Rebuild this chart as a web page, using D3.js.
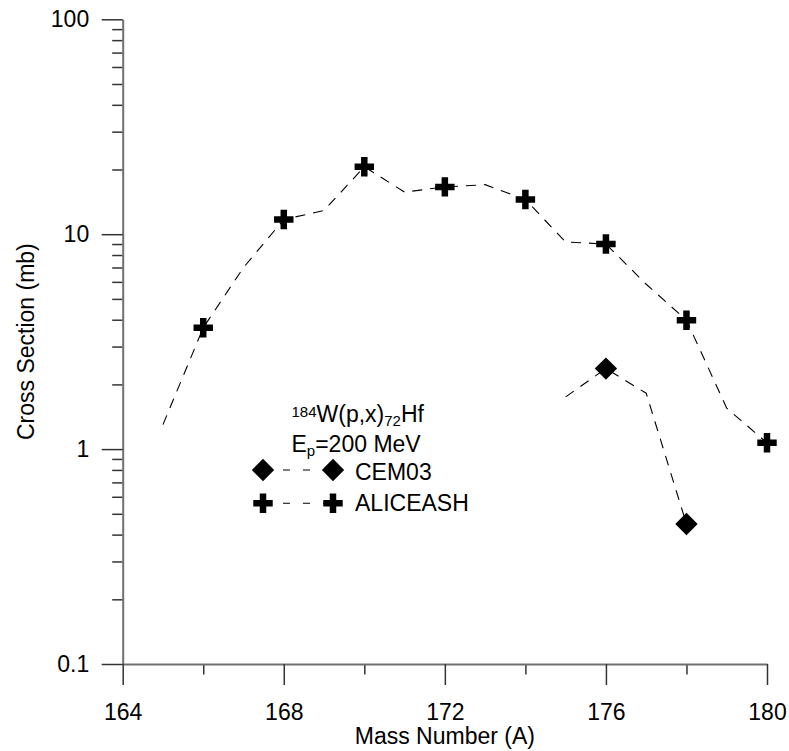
<!DOCTYPE html>
<html><head><meta charset="utf-8">
<script src="https://cdn.jsdelivr.net/npm/d3@7"></script>
<style>
body{margin:0;background:#fff}
svg{display:block}
text{font-family:"Liberation Sans",Arial,Helvetica,sans-serif;fill:#000}
</style>
</head><body>
<svg id="c" width="789" height="751"></svg>
<script>
// ---- data ----
const massNumbers      = [165,166,167,168,169,170,171,172,173,174,175,176,177,178,179,180];
const aliceashValues   = [1.3,3.67,7.0,11.7,12.9,20.6,15.7,16.6,17.0,14.5,9.2,9.0,5.85,3.98,1.55,1.07];
const aliceashMarked   = [166,168,170,172,174,176,178,180];
const cemMassNumbers   = [175,176,177,178];
const cemValues        = [1.75,2.37,1.82,0.448];
const cemMarked        = [176,178];
const xTicksMajor      = [164,168,172,176,180];
const xTicksMinor      = [166,170,174,178];
const yTicksMajor      = [0.1,1,10,100];
const yTickLabels      = ["0.1","1","10","100"];
const seriesNames      = ["CEM03","ALICEASH"];
const xTitle = "Mass Number (A)";
const yTitle = "Cross Section (mb)";

// ---- layout ----
const X0 = 122.7, X1 = 767, Y0 = 664, Y1 = 19.3;
const svg = d3.select("#c");
const x = d3.scaleLinear().domain([164,180]).range([X0,X1]);
const y = d3.scaleLog().domain([0.1,100]).range([Y0,Y1]);

const FS = 23;
const axisColor = "#707070", tickColor = "#333";

// minor y ticks
const yMinor = y.ticks().filter(v => !yTicksMajor.some(m => Math.abs(m - v) < 1e-9));
const gyMinor = svg.append("g").attr("transform",`translate(${X0},0)`)
  .call(d3.axisLeft(y).tickValues(yMinor).tickSize(10.5).tickSizeOuter(0).tickFormat(""));
gyMinor.select(".domain").remove();
gyMinor.selectAll("line").attr("stroke",tickColor).attr("stroke-width",1.5);

// minor x ticks
const gxMinor = svg.append("g").attr("transform",`translate(0,${Y0})`)
  .call(d3.axisBottom(x).tickValues(xTicksMinor).tickSize(10.5).tickSizeOuter(0).tickFormat(""));
gxMinor.select(".domain").remove();
gxMinor.selectAll("line").attr("stroke",tickColor).attr("stroke-width",1.5);

// major y axis
const gy = svg.append("g").attr("transform",`translate(${X0},0)`)
  .call(d3.axisLeft(y).tickValues(yTicksMajor).tickSize(21).tickSizeOuter(0).tickPadding(12.5)
        .tickFormat((d,i) => yTickLabels[i]));
gy.select(".domain").attr("stroke",axisColor).attr("stroke-width",2);
gy.selectAll("line").attr("stroke",tickColor).attr("stroke-width",1.5);
gy.selectAll("text").attr("font-size",FS).attr("font-family",null);

// major x axis
const gx = svg.append("g").attr("transform",`translate(0,${Y0})`)
  .call(d3.axisBottom(x).tickValues(xTicksMajor).tickSize(21).tickSizeOuter(0).tickPadding(18.5)
        .tickFormat(d3.format("d")));
gx.select(".domain").attr("stroke",axisColor).attr("stroke-width",2);
gx.selectAll("line").attr("stroke",tickColor).attr("stroke-width",1.5);
gx.selectAll("text").attr("font-size",FS).attr("font-family",null);

// axis titles
svg.append("text").attr("x",(X0+X1)/2).attr("y",744).attr("text-anchor","middle")
  .attr("font-size",FS).text(xTitle);
svg.append("text").attr("transform",`translate(34,${(Y0+Y1)/2}) rotate(-90)`)
  .attr("text-anchor","middle").attr("font-size",FS).text(yTitle);

// ---- series ----
const line = d3.line().x(d => x(d[0])).y(d => y(d[1]));
const alice = massNumbers.map((m,i) => [m, aliceashValues[i]]);
const cem = cemMassNumbers.map((m,i) => [m, cemValues[i]]);
const dash = "10,8";

svg.append("path").datum(alice).attr("d",line).attr("fill","none")
  .attr("stroke","#000").attr("stroke-width",1.1).attr("stroke-dasharray",dash);
svg.append("path").datum(cem).attr("d",line).attr("fill","none")
  .attr("stroke","#000").attr("stroke-width",1.1).attr("stroke-dasharray",dash);

const crossSym = d3.symbol().type(d3.symbolCross).size(210);
const diamondSym = d3.symbol().type(d3.symbolSquare).size(250);

svg.append("g").selectAll("path")
  .data(alice.filter(d => aliceashMarked.includes(d[0])))
  .join("path").attr("d",crossSym)
  .attr("transform",d => `translate(${x(d[0])},${y(d[1])})`).attr("fill","#000");

svg.append("g").selectAll("path")
  .data(cem.filter(d => cemMarked.includes(d[0])))
  .join("path").attr("d",diamondSym)
  .attr("transform",d => `translate(${x(d[0])},${y(d[1])}) rotate(45)`).attr("fill","#000");

// ---- legend ----
const lg = svg.append("g");
const t1 = lg.append("text").attr("x",291.5).attr("y",421.5).attr("font-size",FS);
t1.append("tspan").attr("font-size",15).attr("dy",-5).text("184");
t1.append("tspan").attr("dy",5).text("W(p,x)");
t1.append("tspan").attr("font-size",15).attr("dy",4).text("72");
t1.append("tspan").attr("dy",-4).text("Hf");

const t2 = lg.append("text").attr("x",291.5).attr("y",451.5).attr("font-size",FS);
t2.append("tspan").text("E");
t2.append("tspan").attr("font-size",15).attr("dy",4).text("p");
t2.append("tspan").attr("dy",-4).text("=200 MeV");

const legendRows = [
  {name: seriesNames[0], sym: diamondSym, rot: 45, cy: 470, base: 480},
  {name: seriesNames[1], sym: crossSym, rot: 0, cy: 503.3, base: 510.5}
];
const lx0 = 263, lx1 = 333;
legendRows.forEach(r => {
  lg.append("line").attr("x1",lx0).attr("x2",lx1).attr("y1",r.cy).attr("y2",r.cy)
    .attr("stroke","#000").attr("stroke-width",1.1).attr("stroke-dasharray","7,13");
  [lx0,lx1].forEach(px => lg.append("path").attr("d",r.sym)
    .attr("transform",`translate(${px},${r.cy}) rotate(${r.rot})`).attr("fill","#000"));
  lg.append("text").attr("x",355).attr("y",r.base).attr("font-size",FS).text(r.name);
});
</script>
</body></html>
